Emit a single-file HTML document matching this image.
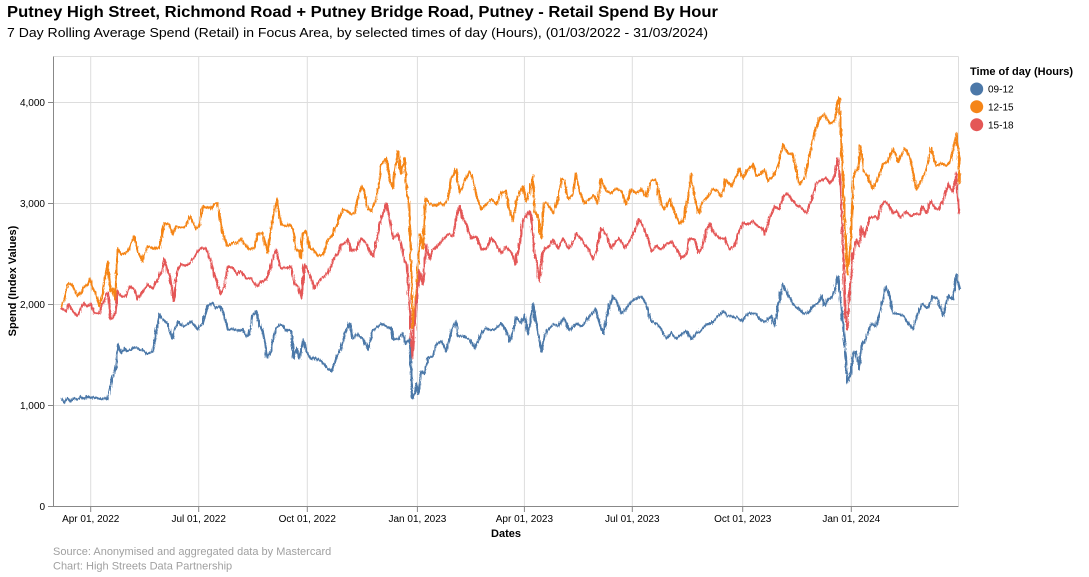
<!DOCTYPE html>
<html>
<head>
<meta charset="utf-8">
<style>
  html,body{margin:0;padding:0;background:#fff;}
  body{width:1089px;height:577px;overflow:hidden;}
  svg{display:block;font-family:"Liberation Sans",Arial,sans-serif;}
</style>
</head>
<body>
<svg id="chart" width="1089" height="577" viewBox="0 0 1089 577" xmlns="http://www.w3.org/2000/svg">
  <defs>
    <filter id="jit" filterUnits="userSpaceOnUse" x="40" y="50" width="930" height="460">
      <feTurbulence type="turbulence" baseFrequency="0.55 0.08" numOctaves="1" seed="7" result="t"/>
      <feDisplacementMap in="SourceGraphic" in2="t" scale="3.5" xChannelSelector="R" yChannelSelector="G"/>
    </filter>
  </defs>
  <rect width="1089" height="577" fill="#fff"/>
  <!-- titles -->
  <text x="7" y="17" font-size="16" font-weight="bold" fill="#000" textLength="711" lengthAdjust="spacingAndGlyphs">Putney High Street, Richmond Road + Putney Bridge Road, Putney - Retail Spend By Hour</text>
  <text x="7" y="37" font-size="13" fill="#000" textLength="701" lengthAdjust="spacingAndGlyphs">7 Day Rolling Average Spend (Retail) in Focus Area, by selected times of day (Hours), (01/03/2022 - 31/03/2024)</text>

  <!-- grid -->
  <g stroke="#dddddd" stroke-width="1" fill="none">
    <line x1="53.5" y1="56.5" x2="958.5" y2="56.5"/>
    <line x1="958.5" y1="56.5" x2="958.5" y2="506"/>
    <line x1="53.5" y1="102.5" x2="958.5" y2="102.5"/>
    <line x1="53.5" y1="203.5" x2="958.5" y2="203.5"/>
    <line x1="53.5" y1="304.5" x2="958.5" y2="304.5"/>
    <line x1="53.5" y1="405.5" x2="958.5" y2="405.5"/>
    <line x1="90.7" y1="56.5" x2="90.7" y2="506"/>
    <line x1="198.7" y1="56.5" x2="198.7" y2="506"/>
    <line x1="307.3" y1="56.5" x2="307.3" y2="506"/>
    <line x1="417.4" y1="56.5" x2="417.4" y2="506"/>
    <line x1="524.4" y1="56.5" x2="524.4" y2="506"/>
    <line x1="632.3" y1="56.5" x2="632.3" y2="506"/>
    <line x1="742.7" y1="56.5" x2="742.7" y2="506"/>
    <line x1="851.3" y1="56.5" x2="851.3" y2="506"/>
  </g>

  <!-- axes -->
  <g stroke="#888" stroke-width="1" fill="none">
    <line x1="53.5" y1="56.5" x2="53.5" y2="506.5"/>
    <line x1="53.5" y1="506.5" x2="958.5" y2="506.5"/>
    <line x1="48" y1="102.5" x2="53.5" y2="102.5"/>
    <line x1="48" y1="203.5" x2="53.5" y2="203.5"/>
    <line x1="48" y1="304.5" x2="53.5" y2="304.5"/>
    <line x1="48" y1="405.5" x2="53.5" y2="405.5"/>
    <line x1="48" y1="506.5" x2="53.5" y2="506.5"/>
    <line x1="90.7" y1="506.5" x2="90.7" y2="512"/>
    <line x1="198.7" y1="506.5" x2="198.7" y2="512"/>
    <line x1="307.3" y1="506.5" x2="307.3" y2="512"/>
    <line x1="417.4" y1="506.5" x2="417.4" y2="512"/>
    <line x1="524.4" y1="506.5" x2="524.4" y2="512"/>
    <line x1="632.3" y1="506.5" x2="632.3" y2="512"/>
    <line x1="742.7" y1="506.5" x2="742.7" y2="512"/>
    <line x1="851.3" y1="506.5" x2="851.3" y2="512"/>
  </g>

  <!-- y tick labels -->
  <g font-size="10" fill="#000" text-anchor="end">
    <text x="45" y="106">4,000</text>
    <text x="45" y="207">3,000</text>
    <text x="45" y="308">2,000</text>
    <text x="45" y="409">1,000</text>
    <text x="45" y="510">0</text>
  </g>
  <!-- x tick labels -->
  <g font-size="10" fill="#000" text-anchor="middle">
    <text x="90.7" y="522">Apr 01, 2022</text>
    <text x="198.7" y="522">Jul 01, 2022</text>
    <text x="307.3" y="522">Oct 01, 2022</text>
    <text x="417.4" y="522">Jan 01, 2023</text>
    <text x="524.4" y="522">Apr 01, 2023</text>
    <text x="632.3" y="522">Jul 01, 2023</text>
    <text x="742.7" y="522">Oct 01, 2023</text>
    <text x="851.3" y="522">Jan 01, 2024</text>
  </g>

  <!-- axis titles -->
  <text x="506" y="537" font-size="11" font-weight="bold" text-anchor="middle" fill="#000">Dates</text>
  <text transform="translate(16,281) rotate(-90)" font-size="11" font-weight="bold" text-anchor="middle" fill="#000">Spend (Index Values)</text>

  <!-- series -->
  <g fill="none" stroke-width="2.2" stroke-linejoin="round" stroke-linecap="round" filter="url(#jit)">
    <polyline stroke="#4c78a8" points="60.3,398 63,401 66,397 69,400 72,397 76,398 80,396 84,397 87,395 90,397 93,396 97,397 100,398 104,397 106,398 108,392 111,377 114.7,367 117,343 119.7,352 123,347 126,350 129.7,348 133,346 136.3,347 139,349 141.3,348 146.3,353 151.3,350 154.7,333 158,313 161.3,318 166.3,322 171.3,337 176.3,320 181.3,325 186.3,323 189.7,320 196.3,328 201.3,322 206.3,305 211.3,302 214.7,307 219.7,305 223,315 226.3,328 231.3,328 236.3,330 241.3,328 244.7,335 248,333 251.3,315 254.7,310 258,322 261.3,330 266.3,357 269.7,350 274.7,327 279.7,323 286.3,330 290,330 292.3,357 295,347 298.3,357 301.7,338 305,350 310,358 315,357 320,360 325,365 330,370 335,357 340,347 343.3,333 348.3,322 351.7,337 356.7,333 361.7,338 366.7,348 371.7,330 380,322 385,325 390,327 391.7,338 396.7,338 401.7,332 405,343 408.3,338 411,397 413.3,393 415,383 416.7,393 420,370 423.3,372 426.7,357 431.7,355 435,343 440,340 445,350 450,330 455,320 456.7,335 463.3,335 468.3,338 473.3,347 480,333 485,327 490,330 495,327 500,322 505,330 508.3,340 511.7,330 515,316 520,322 523.3,313 526.7,333 531.7,303 535,322 540,350 543.3,335 548.3,327 551.7,323 556.7,325 563.3,317 568.3,330 575,322 580,325 585,320 590,313 594.3,308 598.3,323 602.3,332 606.7,310 611.7,295 615,300 620,312 625,308 630,300 635,297 640,295 645,303 650,320 655,322 660,328 665,337 670,332 675,337 680,333 685,330 690,338 695,332 700,330 705,323 710,322 715,317 721.7,310 726.7,315 731.7,315 736.7,317 741.7,320 746.7,312 755,313 760,320 765,320 770,315 773.3,325 776.7,307 781.7,283 786.7,293 791.7,303 796.7,307 801.7,312 806.7,312 811.7,305 816.7,302 820,295 823.3,305 826.7,298 831.7,295 836.7,275 840,305 843.3,338 846,382 849.3,372 851.7,352 855,350 858.3,368 860,345 865,337 870,322 875,325 880,305 885,285 888.3,295 891.7,312 898.3,313 903.3,315 906.7,322 911.7,328 916.7,312 921.7,302 926.7,307 931.7,295 936.7,298 941.7,315 946.7,295 951.7,298 955,273 958.3,288"/>
    <polyline stroke="#f58518" points="60.3,305 63.3,298 66.3,283 69.7,282 73,288 76.3,295 79.7,292 83,285 86.3,283 89,277 91.3,287 94.7,293 98,305 101.3,293 104.7,270 106.3,260 109,290 111.3,287 113.7,298 116.3,247 119.7,253 124.7,252 128,247 133,235 136.3,250 141.3,260 146.3,245 151.3,247 158,247 163,222 168,223 171.3,233 174.7,225 179.7,227 184.7,225 188,215 191.3,220 194.7,228 198,225 201.3,205 206.3,207 209.7,208 213,203 216.3,202 219.7,225 223,237 226.3,245 231.3,242 236.3,242 239.7,237 243,243 248,248 253,247 256.3,233 261.3,232 266.3,252 269.7,227 275.7,198 279.7,223 286.3,225 288.3,223 291.7,228 295,248 298.3,250 300,257 301.7,232 305,230 308.3,247 311.7,248 316.7,255 321.7,253 326.7,238 331.7,233 336.7,220 341.7,208 346.7,210 350,213 353.3,212 356.7,197 360,185 363.3,190 366.7,207 370,210 373.3,203 376.7,190 380,163 385,157 388.3,177 391.7,187 393.3,170 396.7,150 400,172 403.3,157 405.7,190 407.7,203 410,263 411.7,327 414.3,300 416.7,273 419,233 421.7,247 424.3,197 428.3,202 433.3,205 438.3,202 443.3,205 446.7,197 450,177 455,168 458.3,192 463.3,180 468.3,170 471.7,177 475,195 480,208 485,203 490,198 495,203 500,192 505,190 508.3,210 511.7,220 515,200 518.3,192 521.7,185 525,200 528.3,192 531.7,175 533.3,210 536.7,215 540,237 542.3,202 546.7,203 551.7,212 556.7,198 560,178 563.3,180 566.7,198 571.7,193 574.3,172 578.3,190 583.3,202 588.3,197 593.3,195 596.7,202 600,178 605,190 610,192 615,187 620,190 625,203 630,188 635,192 640,188 645,195 650,180 655,178 660,203 663.3,208 668.3,198 673.3,212 678.3,222 681.7,220 685.7,203 690,173 693.3,197 697.7,212 701.7,200 706.7,195 711.7,188 716.7,190 720,195 725,178 730,185 735,175 738.3,167 741.7,177 746.7,168 751.7,163 755,175 760,172 763.3,168 766.7,180 771.7,175 776.7,165 781.7,143 786.7,152 791.7,153 795,168 798.3,183 803.3,178 808.3,153 813.3,132 818.3,117 823.3,113 828.3,122 833.3,120 836.7,98 838.3,97 840,145 842.7,195 846,273 849.3,242 852.7,172 856.7,168 859.3,145 862.7,170 866.7,175 871.7,188 876.7,177 881.7,163 886.7,160 891.7,147 896.7,160 900,155 903.3,147 908.3,155 911.7,172 915,188 920,180 925,168 930,147 935,165 940,162 945,165 950,158 955,132 957.7,155 958.3,182"/>
    <polyline stroke="#e45756" points="60.3,307 64.7,310 68,303 71.3,310 76.3,315 79.7,307 83,302 86.3,305 89.7,302 93,312 98,312 101.3,303 104.7,293 107,292 109,317 111.3,318 114,312 116.3,290 119.7,295 124.7,295 128,285 133,288 136.3,298 141.3,290 146.3,283 151.3,287 156.3,278 161.3,268 163,258 166.3,270 169,275 172.3,300 175.7,270 179.7,263 184.7,265 188,262 192.3,257 196.3,250 199.7,247 204.7,247 208,255 213,273 216.3,283 219.7,293 223,285 226.3,265 231.3,267 236.3,273 239.7,270 244.7,277 249.7,277 254.7,285 259.7,282 264.7,278 269.7,265 274.7,248 279.7,267 284.7,267 290,265 293.3,283 296.7,285 300,297 303.3,263 306.7,270 310,277 313.3,287 318.3,280 323.3,275 328.3,270 331.7,258 336.7,253 340,243 343.3,242 346.7,238 350,250 355,248 360,237 365,242 368.3,250 371.7,255 375,243 378.3,223 381.7,212 385,202 388.3,217 391.7,237 396.7,233 400,243 403.3,260 405.7,263 408.3,303 411,357 413.3,327 415.7,297 418.3,270 421.7,283 425,243 428.3,258 431.7,248 436.7,245 441.7,238 446.7,233 451.7,235 455,215 458.3,205 461.7,217 466.7,227 470,237 475,235 480,248 485,247 490,237 495,243 500,252 505,245 510,252 514.3,263 518.3,243 521.7,220 525,215 528.3,210 530,215 533.3,253 535.7,262 538.3,280 541,253 543.3,247 548.3,245 551.7,238 556.7,247 561.7,237 566.7,247 571.7,242 575,232 580,238 583.3,243 587.7,248 591.7,258 595,250 600,227 605,233 610,247 615,240 618.3,237 623.3,247 628.3,240 633.3,230 637.7,218 641.7,225 646.7,238 650,250 655,245 660,248 665,243 670,240 675,247 680,257 685,253 688.3,237 693.3,238 696.7,252 701.7,245 705,230 708.3,222 713.3,232 718.3,237 723.3,237 728.3,248 733.3,245 736.7,233 741.7,222 746.7,223 751.7,220 756.7,225 761.7,227 763.3,233 768.3,217 773.3,205 778.3,208 781.7,195 786.7,192 790,198 795,203 800,207 805,212 810,200 815,182 820,180 825,177 828.3,182 833.3,175 836.7,157 839.3,185 842,252 844,312 846,328 848.3,292 851.7,255 855,238 858.3,245 860,225 863.3,235 868.3,217 873.3,215 876.7,218 880,205 883.3,200 888.3,205 891.7,212 895,210 900,217 905,210 910,215 913.3,212 918.3,213 921.7,205 925,212 930,200 933.3,207 938.3,208 943.3,195 947.3,182 951.7,192 955,172 957.3,212"/>
  </g>

  <!-- legend -->
  <text x="970" y="75" font-size="11" font-weight="bold" fill="#000">Time of day (Hours)</text>
  <circle cx="976.7" cy="89" r="6.5" fill="#4c78a8"/>
  <circle cx="976.7" cy="106.7" r="6.5" fill="#f58518"/>
  <circle cx="976.7" cy="124.7" r="6.5" fill="#e45756"/>
  <g font-size="10" fill="#000">
    <text x="988" y="92.5">09-12</text>
    <text x="988" y="110.5">12-15</text>
    <text x="988" y="128.5">15-18</text>
  </g>

  <!-- footer -->
  <g font-size="11" fill="#a0a0a0">
    <text x="53" y="555">Source: Anonymised and aggregated data by Mastercard</text>
    <text x="53" y="569.5">Chart: High Streets Data Partnership</text>
  </g>
</svg>
</body>
</html>
